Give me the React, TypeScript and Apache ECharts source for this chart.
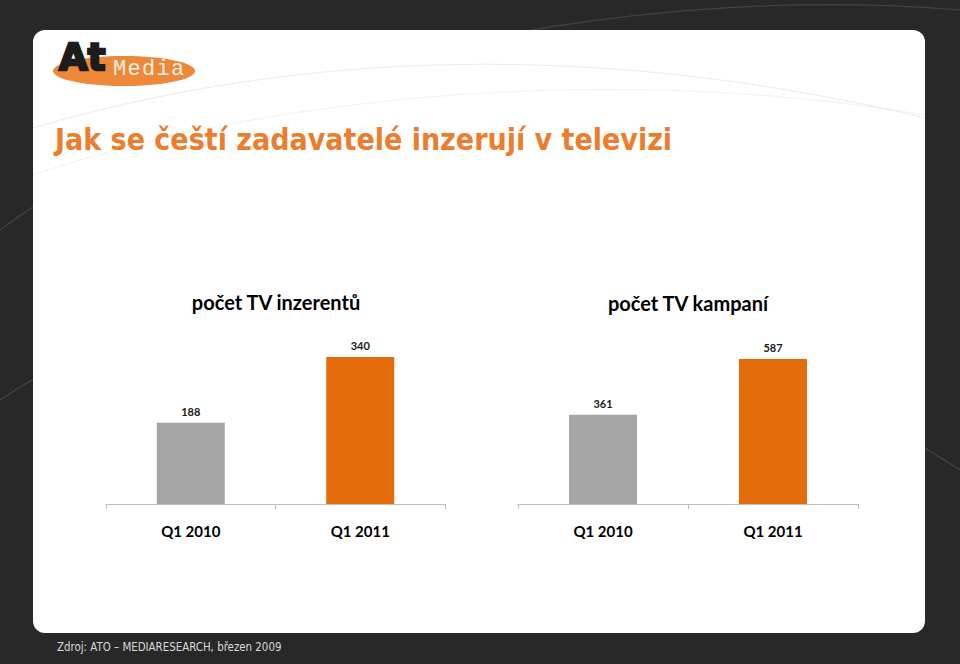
import React, { useEffect, useRef } from "react";
import * as echarts from "echarts";

const categories = ["Q1 2010", "Q1 2011"];
const advertisers = [188, 340];
const campaigns = [361, 587];
const chartTitles = ["počet TV inzerentů", "počet TV kampaní"];
const mainTitle = "Jak se čeští zadavatelé inzerují v televizi";
const sourceNote = "Zdroj: ATO – MEDIARESEARCH, březen 2009";

const GRAY = "#A5A5A5";
const ORANGE = "#E46C0A";
const TITLE_ORANGE = "#EB7D2D";

export default function App() {
  const ref = useRef<HTMLDivElement>(null);
  useEffect(() => {
    if (!ref.current) return;
    const chart = echarts.init(ref.current, undefined, { renderer: "svg" });
    const barData = (vals: number[]) =>
      vals.map((v, i) => ({ value: v, itemStyle: { color: i === 0 ? GRAY : ORANGE } }));
    const labelFont = { fontFamily: "Lato", fontWeight: "bold" as const };
    const xAxisCommon = {
      type: "category" as const,
      data: categories,
      axisLine: { lineStyle: { color: "#BDBDBD", width: 1 } },
      axisTick: { show: true, length: 5, lineStyle: { color: "#BDBDBD" } },
      axisLabel: { color: "#000", fontSize: 15, margin: 19, ...labelFont },
    };
    const yAxisCommon = {
      type: "value" as const,
      min: 0,
      show: false,
      splitLine: { show: false },
    };
    const seriesCommon = {
      type: "bar" as const,
      barWidth: 68,
      label: {
        show: true,
        position: "top" as const,
        distance: 6,
        color: "#1a1a1a",
        fontSize: 11,
        ...labelFont,
      },
    };
    const media = "Media".split("");
    chart.setOption({
      animation: false,
      backgroundColor: "#282828",
      grid: [
        { left: 106, top: 331, width: 339, height: 173 },
        { left: 518, top: 331, width: 340, height: 173 },
      ],
      xAxis: [
        { ...xAxisCommon, gridIndex: 0 },
        { ...xAxisCommon, gridIndex: 1 },
      ],
      yAxis: [
        { ...yAxisCommon, gridIndex: 0, max: 400 },
        { ...yAxisCommon, gridIndex: 1, max: 700 },
      ],
      series: [
        { ...seriesCommon, xAxisIndex: 0, yAxisIndex: 0, data: barData(advertisers) },
        { ...seriesCommon, xAxisIndex: 1, yAxisIndex: 1, data: barData(campaigns) },
      ],
      graphic: [
        // decorative curves on dark background
        { type: "bezierCurve", z: -20, shape: { x1: 0, y1: 230, x2: 960, y2: 10, cpx1: 200, cpy1: 80, cpx2: 600, cpy2: -20 }, style: { stroke: "rgba(150,110,80,0.35)", lineWidth: 1.2, fill: null } },
        { type: "bezierCurve", z: -20, shape: { x1: 0, y1: 400, x2: 960, y2: 470, cpx1: 300, cpy1: 200, cpx2: 700, cpy2: 300 }, style: { stroke: "rgba(200,200,200,0.25)", lineWidth: 1, fill: null } },
        // white panel
        { type: "rect", z: -10, shape: { x: 33, y: 30, width: 892, height: 603, r: 12 }, style: { fill: "#ffffff" } },
        // faint curves on panel
        { type: "bezierCurve", z: -5, shape: { x1: 33, y1: 128, x2: 925, y2: 118, cpx1: 300, cpy1: 50, cpx2: 600, cpy2: 40 }, style: { stroke: "rgba(220,215,200,0.5)", lineWidth: 1, fill: null } },
        { type: "bezierCurve", z: -5, shape: { x1: 33, y1: 175, x2: 925, y2: 115, cpx1: 250, cpy1: 100, cpx2: 600, cpy2: 60 }, style: { stroke: "rgba(225,225,225,0.45)", lineWidth: 1, fill: null } },
        // logo
        { type: "ellipse", z: 1, shape: { cx: 124, cy: 71, rx: 71, ry: 15 }, style: { fill: "#EC8838" } },
        { type: "text", z: 2, x: 59, y: 76, style: { text: "At", fill: "#1c1c1c", stroke: "#1c1c1c", lineWidth: 2.5, font: "900 37px 'DejaVu Sans'", textVerticalAlign: "bottom" } },
        ...media.map((ch, i) => ({
          type: "text",
          z: 2,
          x: 113 + i * 14.5,
          y: 80,
          style: { text: ch, fill: "#fbeee2", font: "22px 'Liberation Mono'", textVerticalAlign: "bottom" },
        })),
        // main title
        { type: "text", z: 2, x: 55, y: 139, style: { text: mainTitle, fill: TITLE_ORANGE, font: "bold 30px 'DejaVu Sans Condensed'", textVerticalAlign: "middle" } },
        // chart titles
        { type: "text", z: 2, x: 276, y: 302, style: { text: chartTitles[0], fill: "#000", font: "bold 20px Lato", textAlign: "center", textVerticalAlign: "middle" } },
        { type: "text", z: 2, x: 688, y: 303, style: { text: chartTitles[1], fill: "#000", font: "bold 20px Lato", textAlign: "center", textVerticalAlign: "middle" } },
        // footer
        { type: "text", z: 2, x: 57, y: 647, style: { text: sourceNote, fill: "#d9d9d9", font: "11.4px 'DejaVu Sans Condensed'", textVerticalAlign: "middle" } },
      ],
    });
    return () => chart.dispose();
  }, []);
  return (
    <div
      ref={ref}
      style={{ position: "fixed", left: 0, top: 0, width: 960, height: 664 }}
    />
  );
}
